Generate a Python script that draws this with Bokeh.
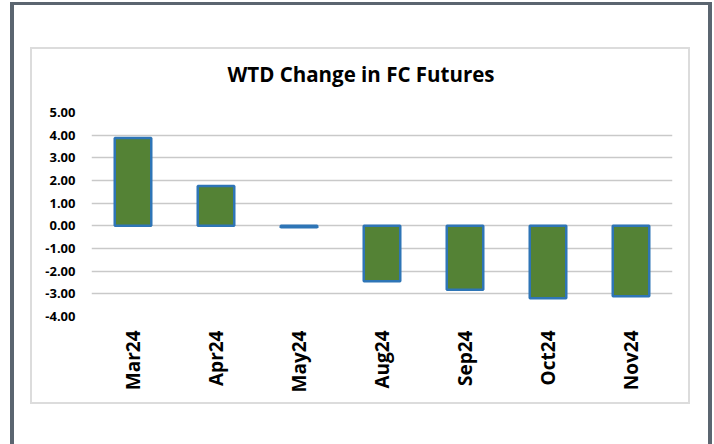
from bokeh.plotting import figure
from bokeh.models import Title, FixedTicker, Range1d
from bokeh.layouts import column
from bokeh.embed import file_html
from bokeh.resources import INLINE
import math

categories = ["Mar24", "Apr24", "May24", "Aug24", "Sep24", "Oct24", "Nov24"]
values = [3.88, 1.76, -0.06, -2.44, -2.82, -3.19, -3.11]
y_ticks = [-4, -3, -2, -1, 0, 1, 2, 3, 4, 5]
y_tick_labels = {t: f"{t:.2f}" for t in y_ticks}
chart_title = "WTD Change in FC Futures"

FONT = "Open Sans"

p = figure(x_range=categories, y_range=Range1d(-4, 5), width=656, height=353,
           output_backend="svg", toolbar_location=None,
           min_border_left=59, min_border_right=16, min_border_top=63, min_border_bottom=86,
           styles={"outline": "2px solid #dcdcdc"})

p.vbar(x=categories, top=values, bottom=0, width=0.44,
       fill_color="#548235", line_color="#2e75b6", line_width=2.5)

# trailing empty line lifts the title above the plot area
title = Title(text=chart_title + "\n", align="left", offset=136, standoff=-13,
              text_line_height=1.1,
              text_font=FONT, text_font_size="20.5px", text_font_style="bold", text_color="#000000")
p.add_layout(title, "above")

p.outline_line_color = None
p.xgrid.grid_line_color = None
p.ygrid.grid_line_color = "#c9c9c9"
p.ygrid.grid_line_width = 1.5
p.yaxis.ticker = FixedTicker(ticks=y_ticks)
p.yaxis.major_label_overrides = y_tick_labels
for ax in (p.xaxis[0], p.yaxis[0]):
    ax.axis_line_color = None
    ax.major_tick_line_color = None
    ax.minor_tick_line_color = None
    ax.major_tick_out = 0
    ax.major_tick_in = 0
    ax.major_label_text_font = FONT
    ax.major_label_text_font_style = "bold"
    ax.major_label_text_color = "#000000"
p.yaxis.major_label_text_font_size = "13px"
p.yaxis.major_label_standoff = 16
p.xaxis.major_label_text_font_size = "19px"
p.xaxis.major_label_standoff = 14
p.xaxis.major_label_orientation = math.pi / 2
p.x_range.range_padding = 0

page = column(p, styles={
    "margin-left": "10px", "margin-top": "2px",
    "border-left": "4px solid #5b6570", "border-right": "4px solid #5b6570",
    "border-top": "3px solid #5b6570",
    "padding-left": "18px", "padding-right": "20px",
    "padding-top": "44px", "padding-bottom": "42px",
})

open("out.html", "w").write(file_html(page, INLINE))
